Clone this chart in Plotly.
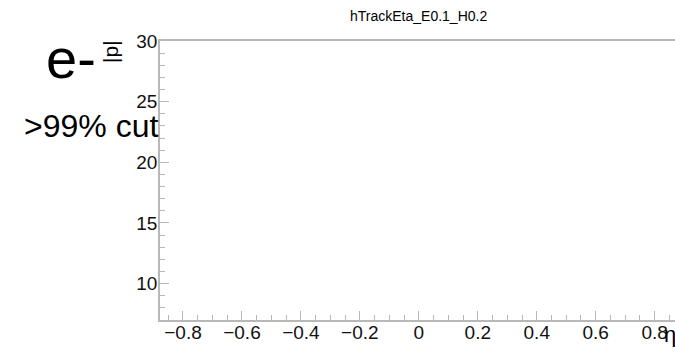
import plotly.graph_objects as go

# Histogram contents (no entries were filled for this selection)
track_eta = []
track_p = []

# Axis ticks
x_tickvals = [-0.8, -0.6, -0.4, -0.2, 0.0, 0.2, 0.4, 0.6, 0.8]
x_ticktext = ["\u22120.8", "\u22120.6", "\u22120.4", "\u22120.2", "0", "0.2", "0.4", "0.6", "0.8"]
y_tickvals = [10, 15, 20, 25, 30]
y_ticktext = ["10", "15", "20", "25", "30"]

x_range = [-0.878, 0.869]
y_range = [7.0, 30.0]

W, H = 675, 354
L, R, T, B = 160, 0, 41, 34
PW, PH = W - L - R, H - T - B


def px(x):
    return (x - L) / PW


def py(y):
    return (H - B - y) / PH


font = "Liberation Sans, Arial, Helvetica, sans-serif"
axis_col = "#b8b8b8"

fig = go.Figure()
fig.add_trace(go.Scatter(x=track_eta, y=track_p, mode="markers",
                         marker=dict(color="black", size=3), showlegend=False))

fig.update_layout(
    width=W, height=H,
    margin=dict(l=L, r=R, t=T, b=B, pad=0),
    paper_bgcolor="white", plot_bgcolor="white",
    font=dict(family=font, color="black"),
    showlegend=False,
    xaxis=dict(
        range=x_range, showgrid=False, zeroline=False,
        showline=True, linecolor=axis_col, linewidth=1.5, mirror=True,
        tickmode="array", tickvals=x_tickvals, ticktext=x_ticktext,
        ticks="inside", ticklen=9, tickcolor=axis_col, tickwidth=1,
        minor=dict(dtick=0.05, tick0=0, ticks="inside", ticklen=5,
                   tickcolor=axis_col, tickwidth=1),
        tickfont=dict(size=19, family=font, color="#111"),
        ticklabelstandoff=-6,
    ),
    yaxis=dict(
        range=y_range, showgrid=False, zeroline=False,
        showline=True, linecolor=axis_col, linewidth=1.5, mirror=False,
        tickmode="array", tickvals=y_tickvals, ticktext=y_ticktext,
        ticks="inside", ticklen=9, tickcolor=axis_col, tickwidth=1,
        minor=dict(dtick=1, tick0=0, ticks="inside", ticklen=5,
                   tickcolor=axis_col, tickwidth=1),
        tickfont=dict(size=19, family=font, color="#111"),
        ticklabelstandoff=-3,
    ),
)

annotations = [
    # histogram title
    dict(text="hTrackEta_E0.1_H0.2", x=px(418), y=py(16), size=14,
         xanchor="center", yanchor="middle", textangle=0),
    # particle label
    dict(text="e-", x=px(44), y=py(58), size=56,
         xanchor="left", yanchor="middle", textangle=0),
    # y axis title
    dict(text="|p|", x=px(110), y=py(52), size=21,
         xanchor="center", yanchor="middle", textangle=-90),
    # selection label
    dict(text=">99% cut", x=px(22), y=py(126), size=32,
         xanchor="left", yanchor="middle", textangle=0),
    # x axis title
    dict(text="\u03b7", x=px(662), y=py(334), size=22,
         xanchor="left", yanchor="middle", textangle=0),
]
for a in annotations:
    fig.add_annotation(
        text=a["text"], x=a["x"], y=a["y"], xref="paper", yref="paper",
        showarrow=False, xanchor=a["xanchor"], yanchor=a["yanchor"],
        textangle=a["textangle"],
        font=dict(size=a["size"], family=font, color="black"),
    )

fig.write_html("out.html")
